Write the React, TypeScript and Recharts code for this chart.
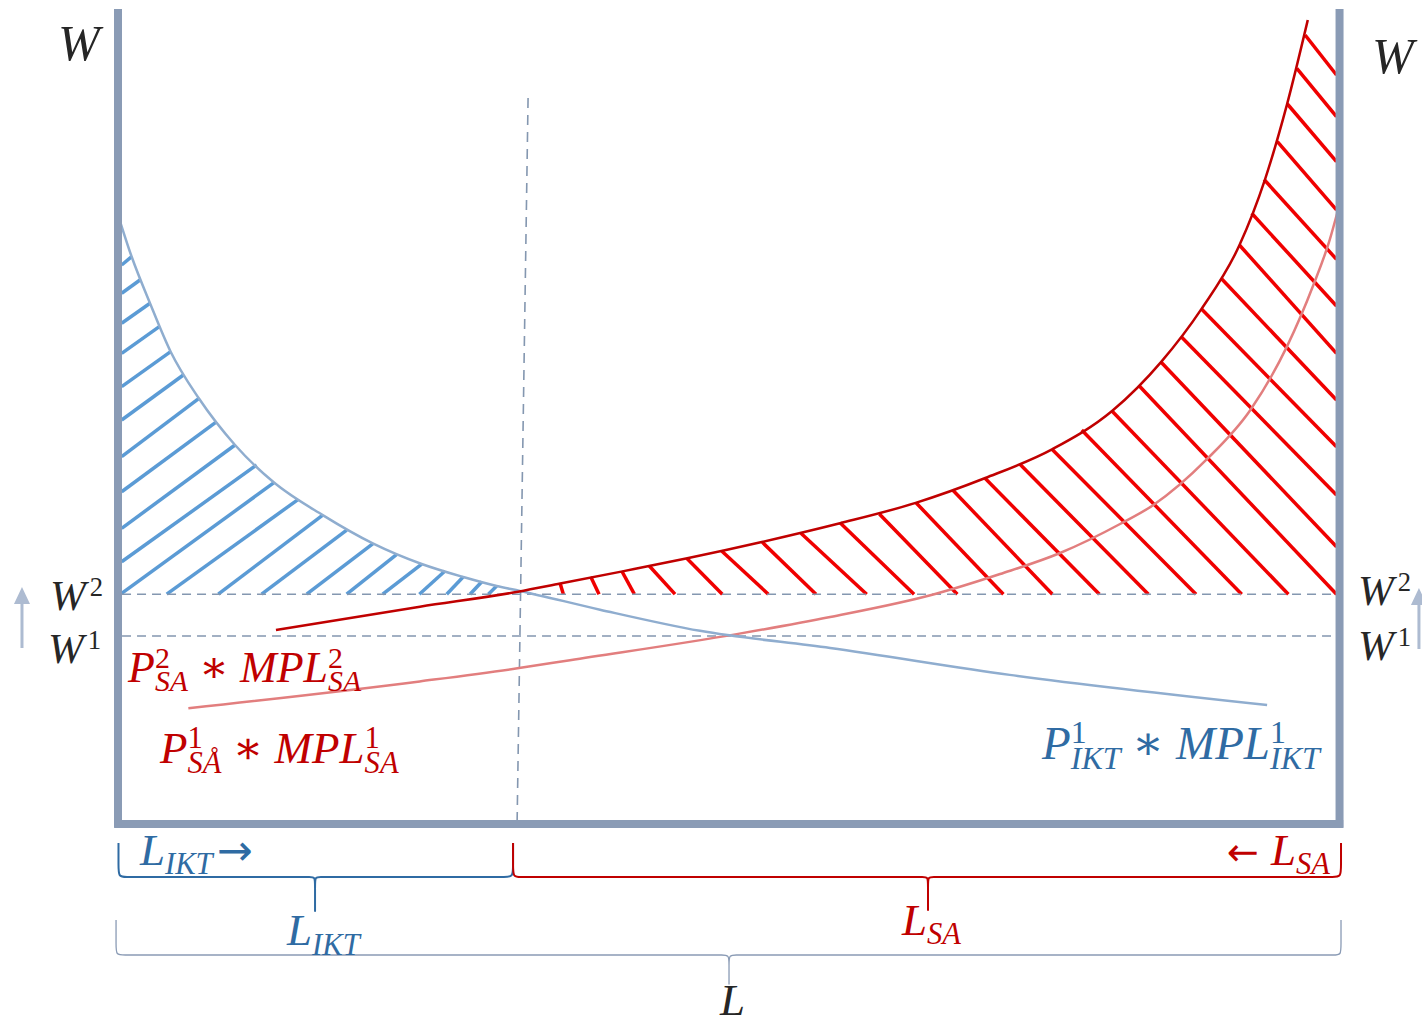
import React from "react";
import { ComposedChart, Line, XAxis, YAxis, ReferenceLine, ReferenceDot } from "recharts";

// Labour-market split diagram: L runs 0..100 between the two wage axes, W runs 0..100 up the axes.
// The view window is a bit wider so the braces and labels outside the box fit.
const VIEW_L: [number, number] = [-9.66, 106.75];
const VIEW_W: [number, number] = [-24.29, 101.1];

const W2 = 28.2; // wage after the shift
const W1 = 23.07; // wage before

type Pt = { x: number; y: number };

// P_IKT * MPL_IKT (falls from the left axis)
const ikt: Pt[] = [
  { x: -0.2, y: 75.7 }, { x: 1.12, y: 69.6 }, { x: 2.62, y: 63.9 }, { x: 4.31, y: 57.95 },
  { x: 6.63, y: 52.2 }, { x: 9.58, y: 46.5 }, { x: 12.77, y: 41.9 }, { x: 16.76, y: 37.9 },
  { x: 20.9, y: 34.4 }, { x: 24.86, y: 31.9 }, { x: 28.27, y: 30.3 }, { x: 31.0, y: 29.2 },
  { x: 32.9, y: 28.6 }, { x: 39.46, y: 26.3 }, { x: 47.65, y: 23.7 }, { x: 58.3, y: 21.6 },
  { x: 73.0, y: 18.3 }, { x: 94.07, y: 14.6 },
];

// P2_SA * MPL2_SA (after the price rise)
const sa2: Pt[] = [
  { x: 12.93, y: 23.8 }, { x: 24.72, y: 26.66 }, { x: 32.75, y: 28.5 }, { x: 36.2, y: 29.5 },
  { x: 41.3, y: 31.0 }, { x: 46.6, y: 32.6 }, { x: 52.7, y: 34.6 }, { x: 59.1, y: 36.9 },
  { x: 65.3, y: 39.4 }, { x: 71.0, y: 42.45 }, { x: 76.5, y: 46.0 }, { x: 81.4, y: 50.7 },
  { x: 85.4, y: 56.7 }, { x: 88.7, y: 63.2 }, { x: 91.8, y: 71.0 }, { x: 93.9, y: 79.1 },
  { x: 95.7, y: 88.3 }, { x: 97.4, y: 98.65 },
];

// P1_SA * MPL1_SA (before)
const sa1: Pt[] = [
  { x: 5.76, y: 14.2 }, { x: 24.7, y: 17.5 }, { x: 32.7, y: 19.1 }, { x: 37.0, y: 20.1 },
  { x: 50.65, y: 23.3 }, { x: 58.3, y: 25.4 }, { x: 66.89, y: 28.22 }, { x: 72.21, y: 30.67 },
  { x: 77.12, y: 33.25 }, { x: 82.03, y: 36.81 }, { x: 84.76, y: 39.14 }, { x: 89.1, y: 44.7 },
  { x: 92.7, y: 50.8 }, { x: 95.7, y: 58.6 }, { x: 97.85, y: 66.1 }, { x: 99.2, y: 71.7 },
  { x: 99.8, y: 74.9 },
];

// hatch strokes [L1, W1, L2, W2]
const blueHatch: number[][] = [
  [0.3, 68.59, 1.12, 69.61], [0.3, 65.12, 1.8, 66.75], [0.3, 61.44, 2.62, 63.89],
  [0.3, 57.75, 3.38, 61.02], [0.3, 53.66, 4.31, 57.95], [0.3, 49.57, 5.35, 55.09],
  [0.3, 45.07, 6.63, 52.23], [0.3, 40.77, 8.08, 49.36], [0.3, 36.28, 9.58, 46.5],
  [0.3, 32.18, 11.35, 44.05], [0.3, 28.3, 12.77, 41.88],
  [3.99, W2, 14.76, 39.84], [8.21, W2, 16.76, 37.91], [11.76, W2, 18.72, 36.07],
  [15.45, W2, 20.9, 34.44], [18.72, W2, 22.82, 33.09], [21.67, W2, 24.86, 31.9],
  [24.67, W2, 26.77, 31.04], [26.91, W2, 28.27, 30.34], [28.82, W2, 29.78, 29.73],
  [30.32, W2, 31.0, 29.2],
];

const redHatch: number[][] = [
  [36.19, 29.53, 36.46, W2], [38.7, 30.34, 39.38, W2], [41.24, 31.04, 42.27, W2],
  [43.5, 31.66, 45.6, W2], [46.56, 32.6, 49.47, W2], [49.42, 33.5, 53.24, W2],
  [52.75, 34.56, 57.14, W2], [55.91, 35.67, 61.29, W2], [59.11, 36.97, 65.17, W2],
  [62.33, 38.04, 68.71, W2], [65.33, 39.42, 72.48, W2], [68.33, 40.98, 76.49, W2],
  [70.98, 42.42, 80.34, W2], [73.84, 44.13, 84.35, W2], [76.44, 46.01, 88.25, W2],
  [78.89, 48.34, 91.99, W2], [81.35, 50.71, 95.81, W2], [83.61, 53.74, 99.75, W2],
  [85.36, 56.72, 99.75, 34.02], [87.08, 59.72, 99.75, 40.37], [88.72, 63.15, 99.75, 46.29],
  [90.36, 66.87, 99.75, 52.02], [91.8, 71.04, 99.75, 57.75], [92.81, 74.93, 99.75, 63.56],
  [93.82, 79.08, 99.75, 69.29], [94.91, 83.72, 99.75, 75.34], [95.73, 88.34, 99.75, 81.26],
  [96.5, 92.72, 99.75, 86.79], [97.18, 96.81, 99.75, 91.9],
];

// curly braces under the L axis (control points, smoothed as b-splines)
const braceIkt: Pt[] = [
  { x: 0.04, y: -2.33 }, { x: 0.04, y: -5.15 }, { x: 0.04, y: -6.5 }, { x: 0.65, y: -6.5 },
  { x: 1.8, y: -6.5 }, { x: 14.9, y: -6.5 }, { x: 15.72, y: -6.5 }, { x: 16.13, y: -6.5 },
  { x: 16.13, y: -7.48 }, { x: 16.13, y: -10.8 }, { x: 16.13, y: -10.8 }, { x: 16.13, y: -7.48 },
  { x: 16.13, y: -6.5 }, { x: 16.54, y: -6.5 }, { x: 17.36, y: -6.5 }, { x: 30.45, y: -6.5 },
  { x: 31.68, y: -6.5 }, { x: 32.34, y: -6.5 }, { x: 32.34, y: -5.15 }, { x: 32.34, y: -2.33 },
];
const braceSa: Pt[] = [
  { x: 32.34, y: -2.33 }, { x: 32.34, y: -5.15 }, { x: 32.34, y: -6.5 }, { x: 32.91, y: -6.5 },
  { x: 34.14, y: -6.5 }, { x: 65.09, y: -6.5 }, { x: 65.9, y: -6.5 }, { x: 66.31, y: -6.5 },
  { x: 66.31, y: -7.48 }, { x: 66.31, y: -10.67 }, { x: 66.31, y: -10.67 }, { x: 66.31, y: -7.48 },
  { x: 66.31, y: -6.5 }, { x: 66.72, y: -6.5 }, { x: 67.54, y: -6.5 }, { x: 98.4, y: -6.5 },
  { x: 99.47, y: -6.5 }, { x: 100.12, y: -6.5 }, { x: 100.12, y: -5.15 }, { x: 100.12, y: -2.33 },
];
const braceAll: Pt[] = [
  { x: -0.16, y: -11.78 }, { x: -0.16, y: -14.97 }, { x: -0.16, y: -16.07 }, { x: 0.49, y: -16.07 },
  { x: 1.8, y: -16.07 }, { x: 48.63, y: -16.07 }, { x: 49.45, y: -16.07 }, { x: 50.02, y: -16.07 },
  { x: 50.02, y: -17.06 }, { x: 50.02, y: -19.75 }, { x: 50.02, y: -19.75 }, { x: 50.02, y: -17.06 },
  { x: 50.02, y: -16.07 }, { x: 50.59, y: -16.07 }, { x: 51.41, y: -16.07 }, { x: 98.4, y: -16.07 },
  { x: 99.55, y: -16.07 }, { x: 100.12, y: -16.07 }, { x: 100.12, y: -14.97 }, { x: 100.12, y: -11.78 },
];

const C = {
  axis: "#8a9bb5", dash: "#8497b0", arrow: "#adbbd1",
  iktLine: "#8fadcf", iktHatch: "#5b9bd5", iktText: "#2f6ba3",
  sa2: "#c00000", sa1: "#e27e7e", saHatch: "#f00000", saText: "#c00000", ink: "#262626",
};
const serif = "'Liberation Serif', 'DejaVu Serif', serif";
const symbol = "'DejaVu Sans', sans-serif";

// sym runs are upright arrows; k scales them against the label size
type Run = { t: string; sup?: string; sub?: string; sym?: number; pad?: number };
type Label = { x: number; y: number; runs: Run[]; size: number; color: string; anchor?: "start" | "end"; sr?: number; gap?: number };

const labels: Label[] = [
  { x: -4.91, y: 93.74, runs: [{ t: "W" }], size: 50, color: C.ink },
  { x: 102.66, y: 92.15, runs: [{ t: "W" }], size: 50, color: C.ink },
  { x: -5.57, y: 26.26, runs: [{ t: "W", sup: "2" }], size: 43, color: C.ink, sr: 0.62, gap: 4 },
  { x: -5.73, y: 19.75, runs: [{ t: "W", sup: "1" }], size: 43, color: C.ink, sr: 0.62, gap: 4 },
  { x: 101.51, y: 26.87, runs: [{ t: "W", sup: "2" }], size: 43, color: C.ink, sr: 0.62, gap: 4 },
  { x: 101.51, y: 20.12, runs: [{ t: "W", sup: "1" }], size: 43, color: C.ink, sr: 0.62, gap: 4 },
  { x: 0.82, y: 17.42, runs: [{ t: "P", sup: "2", sub: "SA" }, { t: " ∗ MPL", sup: "2", sub: "SA" }], size: 44, color: C.saText },
  { x: 3.44, y: 7.48, runs: [{ t: "P", sup: "1", sub: "SÅ" }, { t: " ∗ MPL", sup: "1", sub: "SA" }], size: 45, color: C.saText },
  { x: 75.65, y: 7.98, runs: [{ t: "P", sup: "1", sub: "IKT" }, { t: " ∗ MPL", sup: "1", sub: "IKT" }], size: 47, color: C.iktText },
  { x: 1.8, y: -5.03, runs: [{ t: "L", sub: "IKT" }, { t: "→", sym: 0.95, pad: 4 }], size: 45, color: C.iktText },
  { x: 13.84, y: -14.85, runs: [{ t: "L", sub: "IKT" }], size: 45, color: C.iktText },
  { x: 99.22, y: -5.03, runs: [{ t: "← ", sym: 0.85 }, { t: "L", sub: "SA" }], size: 45, color: C.saText, anchor: "end" },
  { x: 64.18, y: -13.62, runs: [{ t: "L", sub: "SA" }], size: 45, color: C.saText },
  { x: 49.28, y: -23.4, runs: [{ t: "L" }], size: 45, color: C.ink },
];

// wage-up arrows beside the W labels (tip positions)
const arrows: Pt[] = [{ x: -7.86, y: 29.08 }, { x: 106.5, y: 28.96 }];

function MathText({ cx, cy, l }: { cx: number; cy: number; l: Label }) {
  const s = l.size * (l.sr ?? 0.68);
  const up = l.size * 0.33, down = l.size * 0.21;
  const kids: React.ReactNode[] = [];
  let cur = 0;
  l.runs.forEach((r, i) => {
    kids.push(
      <tspan key={i + "b"} fontSize={r.sym ? l.size * r.sym : l.size} dx={r.pad ?? 0} dy={-cur}
        fontFamily={r.sym ? symbol : undefined} fontStyle={r.sym ? "normal" : undefined}>{r.t}</tspan>
    );
    cur = 0;
    if (r.sup) {
      kids.push(<tspan key={i + "p"} fontSize={s} dx={l.gap ?? 0} dy={-up} fontStyle="normal">{r.sup}</tspan>);
      cur = -up;
    }
    if (r.sub) {
      const dx = r.sup ? -s * 0.5 * r.sup.length : 0;
      kids.push(<tspan key={i + "s"} fontSize={s} dx={dx} dy={down - cur}>{r.sub}</tspan>);
      cur = down;
    }
  });
  return (
    <text x={cx} y={cy} fill={l.color} fontFamily={serif} fontStyle="italic" textAnchor={l.anchor ?? "start"} style={{ whiteSpace: "pre" }}>
      {kids}
    </text>
  );
}

function UpArrow({ cx, cy }: any) {
  return <path d={`M${cx},${cy} l-8,17 h6.5 v44 h3 v-44 h6.5 z`} fill={C.arrow} />;
}

export default function App() {
  return (
    <div style={{ position: "absolute", left: 0, top: 0, width: 1422, height: 1022, background: "#fff" }}>
      <ComposedChart width={1422} height={1022} margin={{ top: 0, right: 0, bottom: 0, left: 0 }}>
        <XAxis type="number" dataKey="x" domain={VIEW_L} allowDataOverflow hide />
        <YAxis type="number" domain={VIEW_W} allowDataOverflow hide />

        {blueHatch.map((h, i) => (
          <ReferenceLine key={"bh" + i} segment={[{ x: h[0], y: h[1] }, { x: h[2], y: h[3] }]} stroke={C.iktHatch} strokeWidth={3.5} />
        ))}
        {redHatch.map((h, i) => (
          <ReferenceLine key={"rh" + i} segment={[{ x: h[0], y: h[1] }, { x: h[2], y: h[3] }]} stroke={C.saHatch} strokeWidth={3.5} />
        ))}

        <ReferenceLine segment={[{ x: 0.33, y: W2 }, { x: 99.7, y: W2 }]} stroke={C.dash} strokeWidth={1.6} strokeDasharray="9 6" />
        <ReferenceLine segment={[{ x: 0.33, y: W1 }, { x: 99.7, y: W1 }]} stroke={C.dash} strokeWidth={1.6} strokeDasharray="9 6" />
        <ReferenceLine segment={[{ x: 33.57, y: 89.08 }, { x: 32.67, y: 0 }]} stroke={C.dash} strokeWidth={1.6} strokeDasharray="10 7" />

        <Line data={sa1} dataKey="y" type="monotone" stroke={C.sa1} strokeWidth={2.5} dot={false} activeDot={false} isAnimationActive={false} />
        <Line data={ikt} dataKey="y" type="monotone" stroke={C.iktLine} strokeWidth={2.5} dot={false} activeDot={false} isAnimationActive={false} />
        <Line data={sa2} dataKey="y" type="monotone" stroke={C.sa2} strokeWidth={2.5} dot={false} activeDot={false} isAnimationActive={false} />

        {/* the box: two wage axes and the labour axis */}
        <ReferenceLine segment={[{ x: 0, y: -0.45 }, { x: 0, y: 100 }]} stroke={C.axis} strokeWidth={8} />
        <ReferenceLine segment={[{ x: 100, y: -0.45 }, { x: 100, y: 100 }]} stroke={C.axis} strokeWidth={8} />
        <ReferenceLine segment={[{ x: -0.3, y: 0 }, { x: 100.3, y: 0 }]} stroke={C.axis} strokeWidth={8} />

        <Line data={braceIkt} dataKey="y" type="basis" stroke={C.iktText} strokeWidth={2} dot={false} activeDot={false} isAnimationActive={false} />
        <Line data={braceSa} dataKey="y" type="basis" stroke={C.sa2} strokeWidth={2} dot={false} activeDot={false} isAnimationActive={false} />
        <Line data={braceAll} dataKey="y" type="basis" stroke={C.axis} strokeWidth={1.3} dot={false} activeDot={false} isAnimationActive={false} />

        {arrows.map((a, i) => (
          <ReferenceDot key={"ar" + i} x={a.x} y={a.y} r={0} shape={(p: any) => <UpArrow cx={p.cx} cy={p.cy} />} />
        ))}
        {labels.map((l, i) => (
          <ReferenceDot key={"lb" + i} x={l.x} y={l.y} r={0} shape={(p: any) => <MathText cx={p.cx} cy={p.cy} l={l} />} />
        ))}
      </ComposedChart>
    </div>
  );
}
